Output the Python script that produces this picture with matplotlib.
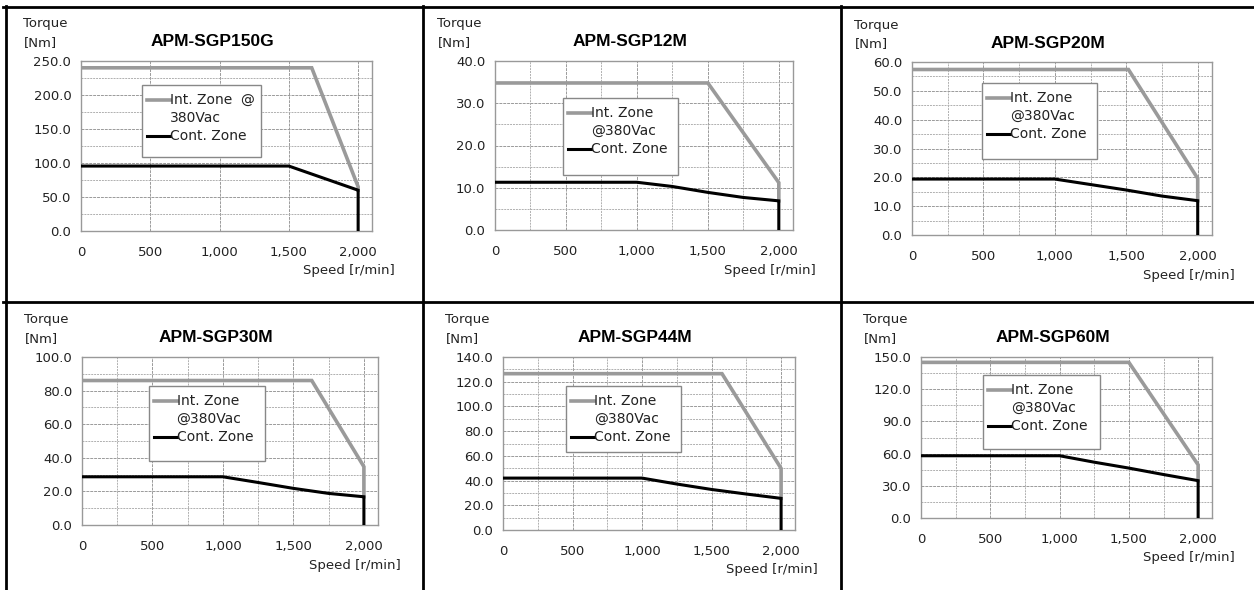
import matplotlib
matplotlib.use("Agg")
import matplotlib.pyplot as plt
from matplotlib.patches import Rectangle
from matplotlib.lines import Line2D
from matplotlib.ticker import MultipleLocator, FuncFormatter

# --- data ---
models = ["APM-SGP150G", "APM-SGP12M", "APM-SGP20M",
          "APM-SGP30M", "APM-SGP44M", "APM-SGP60M"]

int_speed = [[0, 1665, 2000, 2000],
             [0, 1500, 2000, 2000],
             [0, 1515, 2000, 2000],
             [0, 1630, 2000, 2000],
             [0, 1575, 2000, 2000],
             [0, 1500, 2000, 2000]]
int_torque = [[240, 240, 65, 60],
              [34.8, 34.8, 11.2, 6.9],
              [57.4, 57.4, 19.6, 11.9],
              [86.0, 86.0, 34.7, 16.8],
              [126.5, 126.5, 49.8, 25.6],
              [145, 145, 49.5, 34.8]]

cont_speed = [[0, 1500, 2000, 2000],
              [0, 1000, 1250, 1500, 1750, 2000, 2000],
              [0, 1000, 1250, 1500, 1750, 2000, 2000],
              [0, 1000, 1250, 1500, 1750, 2000, 2000],
              [0, 1000, 1250, 1500, 1750, 2000, 2000],
              [0, 1000, 1250, 1500, 1750, 2000, 2000]]
cont_torque = [[95.5, 95.5, 60, 0],
               [11.3, 11.3, 10.3, 8.9, 7.7, 6.9, 0],
               [19.4, 19.4, 17.5, 15.6, 13.5, 11.9, 0],
               [28.7, 28.7, 25.3, 21.8, 18.8, 16.8, 0],
               [42.0, 42.0, 37.2, 32.8, 29.1, 25.6, 0],
               [58.0, 58.0, 52.0, 46.5, 40.5, 34.8, 0]]

y_max = [250, 40, 60, 100, 140, 150]
y_step = [50, 10, 10, 20, 20, 30]
x_minor = [500, 250, 250, 250, 250, 250]
legend_l1 = ["Int. Zone  @", "Int. Zone", "Int. Zone",
             "Int. Zone", "Int. Zone", "Int. Zone"]
legend_l2 = ["380Vac", "@380Vac", "@380Vac", "@380Vac", "@380Vac", "@380Vac"]

# axes boxes in pixels: left, top, right, bottom
boxes = [(81, 61, 372, 231), (495, 61, 793, 230), (912, 62, 1212, 235),
         (82, 357, 378, 525), (503, 357, 795, 530), (921, 357, 1212, 518)]
# legend boxes in axes fraction: left, right, top, bottom
leg_boxes = [(0.211, 0.617, 0.859, 0.437), (0.229, 0.615, 0.783, 0.325),
             (0.233, 0.617, 0.879, 0.442), (0.225, 0.618, 0.828, 0.382),
             (0.217, 0.611, 0.833, 0.448), (0.214, 0.615, 0.891, 0.429)]

W, H = 1254, 590
fig = plt.figure(figsize=(W / 100, H / 100), dpi=100)
fig.patch.set_facecolor("white")

GRAY = "#9a9a9a"
txt = dict(family="DejaVu Sans", color="#222222")

for i in range(6):
    l, t, r, b = boxes[i]
    ax = fig.add_axes([l / W, 1 - b / H, (r - l) / W, (b - t) / H])
    axw, axh = r - l, b - t

    ax.plot(int_speed[i], int_torque[i], color=GRAY, lw=2.6,
            solid_joinstyle="miter", zorder=3)
    ax.plot(cont_speed[i], cont_torque[i], color="black", lw=2.2,
            solid_joinstyle="miter", zorder=4)

    ax.set_xlim(0, 2100)
    ax.set_ylim(0, y_max[i])
    ax.xaxis.set_major_locator(MultipleLocator(500))
    ax.xaxis.set_minor_locator(MultipleLocator(x_minor[i]))
    ax.yaxis.set_major_locator(MultipleLocator(y_step[i]))
    ax.yaxis.set_minor_locator(MultipleLocator(y_step[i] / 2))
    ax.xaxis.set_major_formatter(FuncFormatter(lambda v, p: f"{v:,.0f}"))
    ax.yaxis.set_major_formatter(FuncFormatter(lambda v, p: f"{v:.1f}"))
    ax.grid(which="major", color="#9a9a9a", lw=0.7, ls=(0, (3, 1)), zorder=0)
    ax.grid(which="minor", color="#b0b0b0", lw=0.7, ls=(0, (2, 1)), zorder=0)
    ax.tick_params(which="both", length=0)
    ax.tick_params(axis="y", pad=7, labelsize=9.5, labelcolor="#222222")
    ax.tick_params(axis="x", pad=11, labelsize=9.5, labelcolor="#222222")
    for lab in ax.get_xticklabels() + ax.get_yticklabels():
        lab.set_family("DejaVu Sans")
    for s in ax.spines.values():
        s.set_color("#999999")
        s.set_linewidth(1.0)

    # axis captions
    ax.annotate("Torque", xy=(0, 1), xycoords="axes fraction",
                xytext=(-58, 37), textcoords="offset pixels",
                ha="left", va="center", fontsize=9.5, **txt)
    ax.annotate("[Nm]", xy=(0, 1), xycoords="axes fraction",
                xytext=(-57, 18), textcoords="offset pixels",
                ha="left", va="center", fontsize=9.5, **txt)
    ax.annotate("Speed [r/min]", xy=(1, 0), xycoords="axes fraction",
                xytext=(23, -40), textcoords="offset pixels",
                ha="right", va="center", fontsize=9.5, **txt)
    ax.annotate(models[i], xy=(0.5, 1), xycoords="axes fraction",
                xytext=(-14, 19), textcoords="offset pixels",
                ha="center", va="center", fontsize=12.5, fontweight="bold",
                family="Liberation Sans", color="black")

    # legend box
    ll, lr, lt, lb = leg_boxes[i]
    ax.add_patch(Rectangle((ll, lb), lr - ll, lt - lb, transform=ax.transAxes,
                           facecolor="white", edgecolor="#888888", lw=1.0,
                           zorder=6))
    y1 = lt - 15 / axh
    y2 = lt - 33 / axh
    y3 = lt - 51 / axh
    x0 = ll + 5 / axw
    x1 = ll + 28 / axw
    ax.add_line(Line2D([x0, x1], [y1, y1], transform=ax.transAxes,
                       color=GRAY, lw=2.6, zorder=7))
    ax.add_line(Line2D([x0, x1], [y3, y3], transform=ax.transAxes,
                       color="black", lw=2.2, zorder=7))
    tx = ll + 28 / axw
    ax.text(tx, y1, legend_l1[i], transform=ax.transAxes, ha="left",
            va="center", fontsize=10, zorder=8, **txt)
    ax.text(tx, y2, legend_l2[i], transform=ax.transAxes, ha="left",
            va="center", fontsize=10, zorder=8, **txt)
    ax.text(tx, y3, "Cont. Zone", transform=ax.transAxes, ha="left",
            va="center", fontsize=10, zorder=8, **txt)

# table frame lines
frame = dict(color="black", lw=2.0, transform=fig.transFigure, zorder=10)
fig.add_artist(Line2D([3 / W, 1], [1 - 7 / H, 1 - 7 / H], **frame))
fig.add_artist(Line2D([3 / W, 1], [1 - 302 / H, 1 - 302 / H], **frame))
for xp in (6, 423, 841):
    fig.add_artist(Line2D([xp / W, xp / W], [0, 1 - 6 / H], **frame))

fig.savefig("out.png", dpi=100)
